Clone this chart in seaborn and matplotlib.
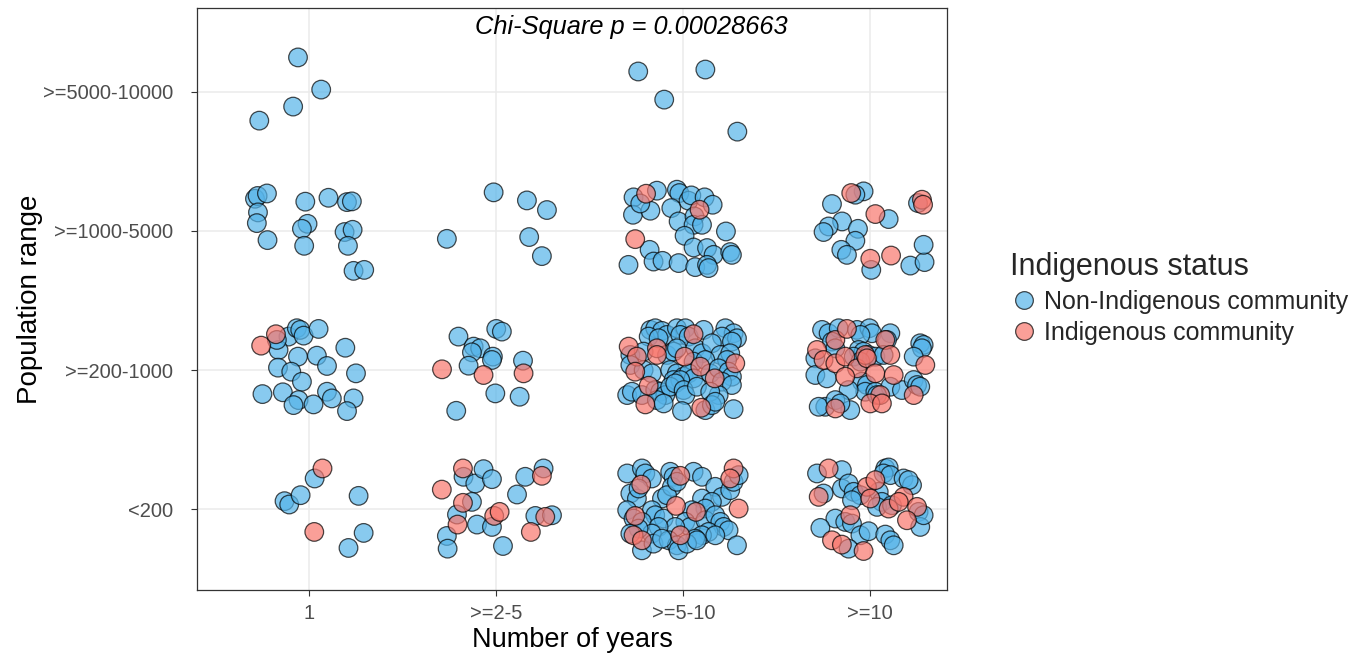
import numpy as np
import pandas as pd
import matplotlib
matplotlib.use("Agg")
import matplotlib.pyplot as plt
import seaborn as sns

# ---------------- data ----------------
x_labels = ['1', '>=2-5', '>=5-10', '>=10']
y_labels = ['<200', '>=200-1000', '>=1000-5000', '>=5000-10000']
status_labels = ['Non-Indigenous community', 'Indigenous community']
chi_p = 0.00028663

# jitter offsets (dx, dy) of each observation inside its (years, population) cell
# Non-Indigenous = ni_*, Indigenous = ind_*
ni_1_p4 = [(-0.060, 0.245), (0.064, 0.014), (-0.086, -0.108), (-0.267, -0.209)]
ind_1_p4 = []
ni_3_p4 = [(-0.241, 0.144), (-0.102, -0.058), (0.118, 0.158), (0.289, -0.288)]
ind_3_p4 = []

ni_1_p3 = [(-0.290, 0.230), (-0.276, 0.250), (-0.226, 0.268), (-0.274, 0.132), (-0.280, 0.055),
           (-0.223, -0.067), (-0.021, 0.209), (0.103, 0.237), (0.202, 0.206), (0.228, 0.211),
           (-0.009, 0.050), (-0.039, 0.014), (-0.027, -0.108), (0.189, -0.009), (0.232, 0.007),
           (0.207, -0.108), (0.237, -0.288), (0.294, -0.281)]
ind_1_p3 = []
ni_2_p3 = [(-0.264, -0.058), (-0.014, 0.276), (0.164, 0.218), (0.271, 0.149), (0.176, -0.045),
           (0.244, -0.182)]
ind_2_p3 = []
ni_3_p3 = [(-0.266, 0.240), (-0.141, 0.288), (-0.269, 0.115), (-0.176, 0.144), (-0.230, 0.196),
           (-0.034, 0.295), (-0.021, 0.271), (0.028, 0.216), (0.043, 0.254), (0.114, 0.240),
           (0.157, 0.187), (-0.064, 0.163), (-0.025, 0.067), (0.060, 0.103), (0.055, 0.043),
           (0.100, 0.043), (0.007, -0.036), (0.228, -0.005), (-0.180, -0.137), (-0.159, -0.221),
           (-0.111, -0.216), (-0.025, -0.232), (0.055, -0.120), (0.127, -0.124), (0.162, -0.173),
           (0.251, -0.153), (0.260, -0.173), (0.064, -0.261), (0.127, -0.245), (0.135, -0.268),
           (-0.293, -0.245)]
ind_3_p3 = [(-0.199, 0.266), (0.087, 0.151), (-0.257, -0.060)]
ni_4_p3 = [(-0.036, 0.283), (-0.080, 0.259), (-0.205, 0.192), (0.098, 0.084), (-0.151, 0.067),
           (-0.223, 0.031), (-0.250, -0.009), (-0.066, 0.014), (-0.080, -0.072), (-0.155, -0.137),
           (-0.125, -0.173), (0.005, -0.281), (0.214, -0.250), (0.290, -0.225), (0.285, -0.101),
           (0.255, 0.199)]
ind_4_p3 = [(-0.102, 0.271), (0.027, 0.120), (0.276, 0.223), (0.282, 0.187), (0.111, -0.178),
            (0.000, -0.201)]

ni_1_p2 = [(-0.111, 0.240), (-0.066, 0.300), (-0.048, 0.288), (-0.030, 0.247), (0.050, 0.295),
           (-0.164, 0.144), (-0.173, 0.216), (-0.060, 0.096), (0.041, 0.103), (0.193, 0.160),
           (-0.167, 0.017), (-0.096, -0.012), (0.095, 0.029), (0.250, -0.024), (-0.039, -0.084),
           (-0.250, -0.173), (-0.141, -0.160), (-0.057, -0.216), (-0.084, -0.252), (0.023, -0.247),
           (0.095, -0.156), (0.121, -0.204), (0.237, -0.204), (0.202, -0.295)]
ind_1_p2 = [(-0.257, 0.175), (-0.178, 0.257)]
ni_2_p2 = [(-0.202, 0.240), (0.000, 0.295), (0.030, 0.276), (-0.121, 0.168), (-0.086, 0.156),
           (-0.130, 0.127), (-0.018, 0.096), (-0.023, 0.072), (-0.148, 0.031), (0.143, 0.067),
           (-0.005, -0.168), (0.125, -0.192), (-0.214, -0.293)]
ind_2_p2 = [(-0.290, 0.005), (-0.068, -0.036), (0.146, -0.024)]
ni_3_p2 = [(-0.176, 0.288), (-0.150, 0.300), (-0.114, 0.281), (-0.087, 0.252), (-0.185, 0.240),
           (-0.132, 0.228), (-0.034, 0.300), (0.011, 0.300), (-0.016, 0.252), (0.029, 0.240),
           (0.109, 0.288), (0.225, 0.300), (0.269, 0.264), (0.207, 0.240), (0.287, 0.228),
           (0.260, 0.204), (-0.283, 0.108), (-0.212, 0.132), (-0.087, 0.108), (-0.052, 0.132),
           (-0.034, 0.156), (0.064, 0.156), (0.100, 0.120), (0.153, 0.192), (0.198, 0.108),
           (0.251, 0.120), (0.234, 0.072), (0.055, 0.060), (0.118, 0.072), (-0.283, 0.036),
           (-0.212, 0.000), (-0.168, -0.024), (-0.070, 0.000), (-0.034, -0.024), (0.002, -0.048),
           (0.029, -0.024), (0.055, -0.060), (0.144, -0.024), (0.189, 0.012), (0.242, -0.012),
           (0.260, -0.048), (-0.052, -0.072), (-0.016, -0.072), (-0.300, -0.180), (-0.275, -0.156),
           (-0.221, -0.180), (-0.150, -0.144), (-0.123, -0.156), (-0.096, -0.180), (-0.141, -0.216),
           (-0.070, -0.120), (-0.043, -0.096), (0.002, -0.144), (0.011, -0.180), (0.073, -0.120),
           (0.207, -0.084), (0.260, -0.108), (0.189, -0.180), (0.144, -0.156), (-0.007, -0.295),
           (0.118, -0.288), (0.153, -0.252), (0.171, -0.228), (0.269, -0.281), (-0.105, -0.240)]
ind_3_p2 = [(0.055, 0.257), (-0.292, 0.168), (-0.248, 0.096), (-0.141, 0.156), (-0.141, 0.108),
            (0.007, 0.096), (0.278, 0.048), (-0.257, -0.012), (0.091, 0.024), (0.168, -0.060),
            (-0.185, -0.113), (-0.203, -0.247), (0.096, -0.271)]
ni_4_p2 = [(-0.258, 0.288), (-0.223, 0.264), (-0.169, 0.300), (-0.071, 0.288), (-0.005, 0.300),
           (0.009, 0.264), (-0.053, 0.252), (0.107, 0.264), (0.089, 0.216), (-0.205, 0.204),
           (-0.187, 0.156), (0.267, 0.192), (0.285, 0.180), (0.276, 0.156), (0.232, 0.096),
           (-0.294, 0.084), (-0.062, 0.144), (-0.036, 0.132), (-0.009, 0.108), (0.027, 0.096),
           (0.071, 0.108), (-0.089, 0.096), (-0.053, 0.060), (-0.294, -0.036), (-0.232, -0.060),
           (-0.045, -0.084), (-0.018, -0.108), (-0.027, -0.156), (0.027, -0.156), (-0.116, -0.144),
           (0.107, -0.120), (0.169, -0.144), (0.232, -0.072), (0.250, -0.108), (0.267, -0.120),
           (-0.241, -0.264), (-0.276, -0.264), (-0.187, -0.216), (-0.107, -0.288), (-0.160, -0.240),
           (0.036, -0.180)]
ind_4_p2 = [(-0.285, 0.144), (-0.250, 0.072), (-0.187, 0.048), (-0.187, 0.216), (-0.125, 0.295),
            (-0.134, 0.096), (-0.071, 0.012), (-0.027, 0.108), (-0.018, 0.084), (0.027, -0.024),
            (0.080, 0.216), (0.107, 0.108), (0.125, -0.036), (-0.134, -0.048), (0.294, 0.036),
            (0.232, -0.180), (0.053, -0.180), (0.000, -0.240), (0.062, -0.240), (-0.187, -0.276)]

ni_1_p1 = [(-0.132, 0.058), (-0.107, 0.034), (-0.046, 0.101), (0.029, 0.221), (0.264, 0.096),
           (0.291, -0.170), (0.210, -0.278)]
ind_1_p1 = [(0.071, 0.293), (0.027, -0.163)]
ni_2_p1 = [(-0.175, 0.233), (-0.112, 0.185), (-0.068, 0.288), (-0.023, 0.216), (0.155, 0.233),
           (0.253, 0.293), (0.111, 0.106), (-0.130, 0.053), (-0.210, -0.038), (-0.103, -0.110),
           (-0.023, -0.127), (0.209, -0.048), (0.298, -0.043), (-0.264, -0.192), (-0.260, -0.283),
           (0.036, -0.264)]
ind_2_p1 = [(-0.178, 0.293), (-0.291, 0.141), (-0.178, 0.046), (-0.207, -0.110), (-0.011, -0.048),
            (0.018, -0.019), (0.244, 0.240), (0.262, -0.055), (0.185, -0.163)]
ni_3_p1 = [(-0.300, 0.257), (-0.221, 0.293), (-0.203, 0.257), (-0.168, 0.221), (-0.070, 0.269),
           (-0.052, 0.233), (0.055, 0.269), (0.100, 0.233), (0.171, 0.161), (0.207, 0.089),
           (0.251, 0.137), (0.269, 0.197), (0.296, 0.245), (-0.283, 0.113), (-0.248, 0.077),
           (-0.239, 0.149), (-0.114, 0.077), (-0.061, 0.161), (-0.087, 0.101), (-0.034, 0.197),
           (0.100, 0.077), (0.153, 0.053), (0.118, 0.005), (0.046, -0.007), (-0.300, -0.007),
           (-0.266, -0.067), (-0.168, -0.007), (-0.150, -0.043), (-0.221, -0.091), (-0.105, -0.067),
           (0.011, -0.091), (0.037, -0.127), (0.118, -0.079), (0.171, -0.043), (0.198, -0.091),
           (0.216, -0.127), (0.242, -0.151), (0.135, -0.163), (0.100, -0.187), (0.064, -0.211),
           (-0.043, -0.127), (-0.132, -0.127), (-0.168, -0.175), (-0.239, -0.139), (-0.283, -0.175),
           (-0.221, -0.295), (-0.159, -0.247), (-0.078, -0.223), (-0.034, -0.259), (-0.025, -0.295),
           (0.020, -0.247), (0.073, -0.223), (0.171, -0.187), (0.287, -0.259), (-0.114, -0.211)]
ind_3_p1 = [(-0.225, 0.177), (-0.016, 0.240), (0.269, 0.293), (0.251, 0.221), (-0.039, 0.024),
            (0.068, -0.019), (0.296, 0.005), (-0.257, -0.048), (-0.266, -0.187), (-0.221, -0.223),
            (-0.016, -0.187)]
ni_4_p1 = [(-0.285, 0.257), (-0.152, 0.281), (-0.152, 0.149), (-0.116, 0.185), (-0.089, 0.125),
           (-0.053, 0.101), (-0.098, 0.065), (-0.250, 0.113), (0.080, 0.293), (0.098, 0.300),
           (0.071, 0.257), (0.107, 0.245), (0.045, 0.125), (0.062, 0.053), (0.036, 0.017),
           (0.116, 0.029), (0.178, 0.221), (0.223, 0.173), (0.205, 0.209), (0.258, -0.019),
           (0.267, -0.127), (0.285, -0.043), (-0.187, -0.067), (-0.134, -0.091), (-0.098, -0.103),
           (-0.267, -0.134), (-0.053, -0.187), (-0.009, -0.158), (0.080, -0.182), (0.107, -0.223),
           (0.125, -0.259), (-0.116, -0.283)]
ind_4_p1 = [(-0.223, 0.293), (-0.276, 0.089), (-0.018, 0.161), (0.000, 0.077), (0.027, 0.209),
            (0.098, 0.005), (0.178, 0.089), (0.152, 0.053), (0.250, 0.017), (0.196, -0.079),
            (-0.107, -0.043), (-0.205, -0.223), (-0.152, -0.254), (-0.036, -0.300)]

cells = [
    ('1', '>=5000-10000', ni_1_p4, ind_1_p4),
    ('>=5-10', '>=5000-10000', ni_3_p4, ind_3_p4),
    ('1', '>=1000-5000', ni_1_p3, ind_1_p3),
    ('>=2-5', '>=1000-5000', ni_2_p3, ind_2_p3),
    ('>=5-10', '>=1000-5000', ni_3_p3, ind_3_p3),
    ('>=10', '>=1000-5000', ni_4_p3, ind_4_p3),
    ('1', '>=200-1000', ni_1_p2, ind_1_p2),
    ('>=2-5', '>=200-1000', ni_2_p2, ind_2_p2),
    ('>=5-10', '>=200-1000', ni_3_p2, ind_3_p2),
    ('>=10', '>=200-1000', ni_4_p2, ind_4_p2),
    ('1', '<200', ni_1_p1, ind_1_p1),
    ('>=2-5', '<200', ni_2_p1, ind_2_p1),
    ('>=5-10', '<200', ni_3_p1, ind_3_p1),
    ('>=10', '<200', ni_4_p1, ind_4_p1),
]

rows = []
for yr, pop, ni, ind in cells:
    xi = x_labels.index(yr) + 1
    yi = y_labels.index(pop) + 1
    for dx, dy in ni:
        rows.append(dict(years=xi + dx, pop=yi + dy, status=status_labels[0]))
    for dx, dy in ind:
        rows.append(dict(years=xi + dx, pop=yi + dy, status=status_labels[1]))
df = pd.DataFrame(rows)

# ---------------- plot ----------------
sns.set_style("white")
plt.rcParams['font.family'] = ['Liberation Sans', 'DejaVu Sans']

fig = plt.figure(figsize=(13.59, 6.53), dpi=100)
ax = fig.add_axes([197 / 1359, 1 - 590 / 653, (947 - 197) / 1359, (590 - 8) / 653])

palette = {status_labels[0]: '#56B4E9', status_labels[1]: '#F8766D'}
sns.scatterplot(data=df, x='years', y='pop', hue='status', hue_order=status_labels,
                palette=palette, s=180, alpha=0.7, edgecolor='black', linewidth=0.9,
                ax=ax, zorder=3)

ax.set_xlim(0.4, 4.41)
ax.set_ylim(0.42, 4.6)
ax.set_xticks(range(1, 5))
ax.set_xticklabels(x_labels)
ax.set_yticks(range(1, 5))
ax.set_yticklabels(y_labels)
ax.grid(True, color='#EBEBEB', linewidth=1.1, zorder=0)
ax.set_axisbelow(True)
for sp in ax.spines.values():
    sp.set_color('#333333')
    sp.set_linewidth(0.9)
ax.tick_params(axis='both', which='major', labelsize=14.5, labelcolor='#4D4D4D',
               color='#333333', length=4, width=0.8, direction='out')
ax.tick_params(axis='x', bottom=True, pad=6)
ax.tick_params(axis='y', left=True, pad=13)
ax.set_xlabel('Number of years', fontsize=19.5, color='black', labelpad=3)
ax.set_ylabel('Population range', fontsize=20, color='black', labelpad=0)

ax.text(2.72, 4.46, f'Chi-Square p = {chi_p:.8f}', fontsize=18.3, style='italic',
        ha='center', va='center', color='black')

handles, labels = ax.get_legend_handles_labels()
if ax.legend_:
    ax.legend_.remove()
leg = fig.legend(handles, labels, title='Indigenous status', loc='upper left',
                 bbox_to_anchor=(1000 / 1359, 1 - 242 / 653), frameon=False,
                 fontsize=18, title_fontsize=22, alignment='left',
                 handletextpad=0.25, handlelength=1.1, labelspacing=0.3,
                 borderaxespad=0, markerscale=0.95)

fig.savefig('out.png', dpi=100)
